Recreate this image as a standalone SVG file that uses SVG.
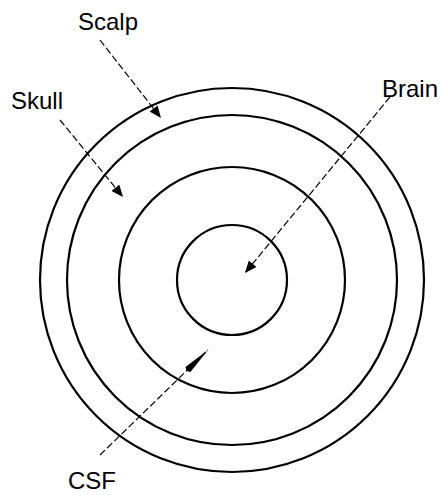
<svg xmlns="http://www.w3.org/2000/svg" width="442" height="495" viewBox="0 0 442 495">
<style>
.ring{fill:none;stroke:#000;stroke-width:2.2}
.lbl{font-family:"Liberation Sans",Arial,sans-serif;font-size:24px;fill:#000}
.conn{fill:none;stroke:#000;stroke-width:1.2;stroke-dasharray:7 3}
</style>
<defs>
<marker id="ah" viewBox="0 0 12 10" refX="12" refY="5" markerWidth="12" markerHeight="10" markerUnits="userSpaceOnUse" orient="auto">
<path d="M0,0 L12,5 L0,10 Z" fill="#000"/>
</marker>
<marker id="ahlong" viewBox="0 0 30 8" refX="30" refY="4" markerWidth="30" markerHeight="8" markerUnits="userSpaceOnUse" orient="auto">
<path d="M0,4 L2,0.5 L30,4 L2,7.5 Z" fill="#000"/>
</marker>
</defs>
<rect width="442" height="495" fill="#fff"/>
<g id="scalp-ring"><circle class="ring" cx="232" cy="280" r="192"/></g>
<g id="skull-ring"><circle class="ring" cx="232" cy="280" r="165"/></g>
<g id="csf-ring"><circle class="ring" cx="232" cy="280" r="113"/></g>
<g id="brain-ring"><circle class="ring" cx="232" cy="280" r="55" stroke-width="1.8"/></g>
<g id="connectors">
<path class="conn" d="M100,40 L161,118" stroke-dasharray="48 4 4 4 4 4" marker-end="url(#ah)"/>
<path class="conn" d="M60,120 L123,197" marker-end="url(#ah)"/>
<path class="conn" d="M390,97 L245,273" marker-end="url(#ah)"/>
<path class="conn" d="M100,455 L208,350" stroke-width="1" marker-end="url(#ahlong)"/>
</g>
<g id="label-scalp"><text class="lbl" x="78" y="30">Scalp</text></g>
<g id="label-skull"><text class="lbl" x="11" y="109">Skull</text></g>
<g id="label-brain"><text class="lbl" x="382" y="97">Brain</text></g>
<g id="label-csf"><text class="lbl" x="68" y="489">CSF</text></g>
</svg>
